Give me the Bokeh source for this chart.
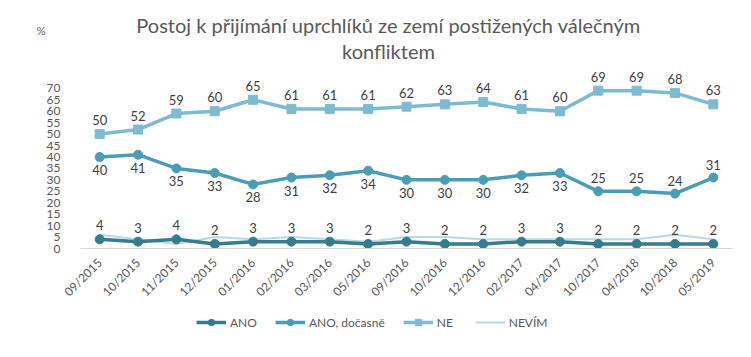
from bokeh.plotting import figure
from bokeh.models import (FactorRange, Range1d, ColumnDataSource, LabelSet, Label,
                          Legend, LegendItem, FixedTicker)
from bokeh.core.properties import value
from bokeh.layouts import column
from bokeh.embed import file_html
from bokeh.resources import INLINE
import math

categories = ["09/2015", "10/2015", "11/2015", "12/2015", "01/2016", "02/2016", "03/2016",
              "05/2016", "09/2016", "10/2016", "12/2016", "02/2017", "04/2017", "10/2017",
              "04/2018", "10/2018", "05/2019"]
ano = [4, 3, 4, 2, 3, 3, 3, 2, 3, 2, 2, 3, 3, 2, 2, 2, 2]
ano_docasne = [40, 41, 35, 33, 28, 31, 32, 34, 30, 30, 30, 32, 33, 25, 25, 24, 31]
ne = [50, 52, 59, 60, 65, 61, 61, 61, 62, 63, 64, 61, 60, 69, 69, 68, 63]
nevim = [6, 4, 2, 5, 4, 5, 4, 3, 5, 5, 4, 4, 4, 4, 4, 6, 4]
y_ticks = [0, 5, 10, 15, 20, 25, 30, 35, 40, 45, 50, 55, 60, 65, 70]
series_names = ["ANO", "ANO, dočasně", "NE", "NEVÍM"]
title_1 = "Postoj k přijímání uprchlíků ze zemí postižených válečným"
title_2 = "konfliktem"
unit = "%"

FONT = "Lato"
C_ANO = "#367c8f"
C_DOC = "#4a9db5"
C_NE = "#7dbbd1"
C_NEVIM = "#b9d8e3"
TXT = "#404040"
GREY = "#595959"
W = 750

# ---------------- title strip ----------------
TOP_H = 69
UNIT_Y = TOP_H - 30
p_top = figure(width=W, height=TOP_H, x_range=Range1d(80, 732), y_range=Range1d(0, TOP_H),
               x_axis_type=None, title=None, output_backend="svg",
               toolbar_location=None, min_border=0)
p_top.outline_line_color = None
p_top.xgrid.grid_line_color = None
p_top.ygrid.grid_line_color = None
p_top.yaxis.ticker = FixedTicker(ticks=[UNIT_Y])
p_top.yaxis.major_label_overrides = {UNIT_Y: unit}
p_top.yaxis.axis_line_color = None
p_top.yaxis.major_tick_line_color = None
p_top.yaxis.minor_tick_line_color = None
p_top.yaxis.major_label_text_font = FONT
p_top.yaxis.major_label_text_font_size = "11px"
p_top.yaxis.major_label_text_color = GREY
p_top.yaxis.major_label_standoff = 29
p_top.add_layout(Label(x=388, y=TOP_H - 24, text=title_1, text_font=FONT, text_font_size="20px",
                       text_color=GREY, text_align="center", text_baseline="middle"))
p_top.add_layout(Label(x=388, y=TOP_H - 50, text=title_2, text_font=FONT, text_font_size="20px",
                       text_color=GREY, text_align="center", text_baseline="middle"))

# ---------------- main chart ----------------
Y_TOP = 77.8
p = figure(width=W, height=238, x_range=FactorRange(factors=categories, range_padding=0),
           y_range=Range1d(0, Y_TOP), title=None, output_backend="svg", toolbar_location=None,
           min_border_left=80, min_border_right=18, min_border_top=1, min_border_bottom=57)
p.outline_line_color = None
p.xgrid.grid_line_color = None
p.ygrid.grid_line_color = None

src = ColumnDataSource(dict(x=categories, idx=list(range(len(categories))), ano=ano,
                            doc=ano_docasne, ne=ne, nevim=nevim,
                            ano_t=[str(v) for v in ano], ne_t=[str(v) for v in ne]))

p.line("x", "nevim", source=src, line_color=C_NEVIM, line_width=2)
p.line("x", "ano", source=src, line_color=C_ANO, line_width=3.5)
p.scatter("x", "ano", source=src, marker="circle", size=9, fill_color=C_ANO, line_color=C_ANO)
p.line("x", "doc", source=src, line_color=C_DOC, line_width=3.5)
p.scatter("x", "doc", source=src, marker="circle", size=9, fill_color=C_DOC, line_color=C_DOC)
p.line("x", "ne", source=src, line_color=C_NE, line_width=3.5)
p.scatter("x", "ne", source=src, marker="square", size=9, fill_color=C_NE, line_color=C_NE)

common = dict(text_font=value(FONT), text_font_size=value("13px"), text_color=value(TXT),
              text_align=value("center"))
p.add_layout(LabelSet(x="x", y="ne", text="ne_t", source=src, y_offset=9,
                      text_baseline=value("bottom"), **common))
p.add_layout(LabelSet(x="x", y="ano", text="ano_t", source=src, y_offset=9,
                      text_baseline=value("bottom"), **common))

n_below = 13
src_doc_below = ColumnDataSource(dict(x=categories[:n_below], y=ano_docasne[:n_below],
                                      t=[str(v) for v in ano_docasne[:n_below]]))
src_doc_above = ColumnDataSource(dict(x=categories[n_below:], y=ano_docasne[n_below:],
                                      t=[str(v) for v in ano_docasne[n_below:]]))
p.add_layout(LabelSet(x="x", y="y", text="t", source=src_doc_below, y_offset=-8,
                      text_baseline=value("top"), **common))
p.add_layout(LabelSet(x="x", y="y", text="t", source=src_doc_above, y_offset=8,
                      text_baseline=value("bottom"), **common))

p.yaxis.ticker = FixedTicker(ticks=y_ticks)
p.yaxis.axis_line_color = None
p.yaxis.major_tick_line_color = None
p.yaxis.minor_tick_line_color = None
p.yaxis.major_label_text_font = FONT
p.yaxis.major_label_text_font_size = "12px"
p.yaxis.major_label_text_color = GREY
p.yaxis.major_label_standoff = 14

p.xaxis.axis_line_color = "#d9d9d9"
p.xaxis.axis_line_width = 1
p.xaxis.major_tick_line_color = None
p.xaxis.minor_tick_line_color = None
p.xaxis.major_label_orientation = math.pi / 4
p.xaxis.major_label_text_font = FONT
p.xaxis.major_label_text_font_size = "12px"
p.xaxis.major_label_text_color = GREY
p.xaxis.major_label_standoff = 6

# ---------------- legend strip ----------------
LEG_H = 41
p_leg = figure(width=W, height=LEG_H, x_range=Range1d(0, W), y_range=Range1d(1000, 1000 + LEG_H),
               x_axis_type=None, y_axis_type=None, title=None, output_backend="svg",
               toolbar_location=None, min_border=0)
p_leg.outline_line_color = None
p_leg.xgrid.grid_line_color = None
p_leg.ygrid.grid_line_color = None
l_ano = p_leg.line("idx", "ano", source=src, line_color=C_ANO, line_width=3.5)
s_ano = p_leg.scatter("idx", "ano", source=src, marker="circle", size=8, fill_color=C_ANO, line_color=C_ANO)
l_doc = p_leg.line("idx", "doc", source=src, line_color=C_DOC, line_width=3.5)
s_doc = p_leg.scatter("idx", "doc", source=src, marker="circle", size=8, fill_color=C_DOC, line_color=C_DOC)
l_ne = p_leg.line("idx", "ne", source=src, line_color=C_NE, line_width=3.5)
s_ne = p_leg.scatter("idx", "ne", source=src, marker="square", size=8, fill_color=C_NE, line_color=C_NE)
l_nev = p_leg.line("idx", "nevim", source=src, line_color=C_NEVIM, line_width=2)

legend = Legend(items=[
    LegendItem(label=series_names[0], renderers=[l_ano, s_ano]),
    LegendItem(label=series_names[1], renderers=[l_doc, s_doc]),
    LegendItem(label=series_names[2], renderers=[l_ne, s_ne]),
    LegendItem(label=series_names[3], renderers=[l_nev]),
], orientation="horizontal", location=(116, 18))
legend.border_line_color = None
legend.background_fill_alpha = 0
legend.label_text_font = FONT
legend.label_text_font_size = "12px"
legend.label_text_color = GREY
legend.glyph_width = 30
legend.glyph_height = 16
legend.padding = 0
legend.margin = 0
legend.spacing = 18
legend.label_standoff = 4
p_leg.add_layout(legend, "center")

open("out.html", "w").write(file_html(column(p_top, p, p_leg), INLINE))
